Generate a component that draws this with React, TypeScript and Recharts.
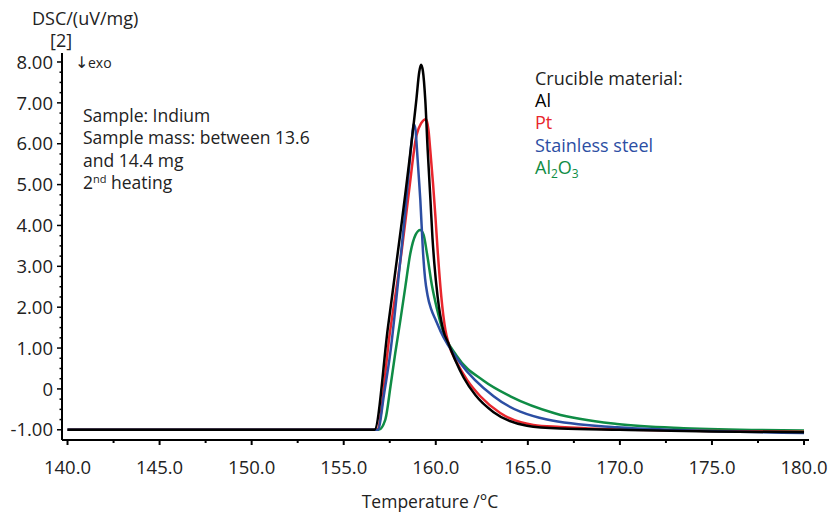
import React from 'react';
import { LineChart, Line, XAxis, YAxis } from 'recharts';

// ---- Data (Temperature °C, DSC uV/mg) ----
const alTemp = [140, 156.67, 157.4, 158.17, 158.95, 159.1, 159.2, 159.3, 159.43, 159.56, 159.71, 159.82, 159.92, 160.1, 160.4, 160.7, 161.06, 161.51, 162.15, 163.14, 164.95, 166.76, 170, 175, 180];
const alDsc = [-1, -1, 1.5, 4.14, 7.1, 7.75, 7.93, 7.78, 7.07, 5.85, 4.63, 3.7, 3.08, 2.26, 1.45, 1.1, 0.7, 0.28, -0.15, -0.57, -0.9, -0.97, -1.0, -1.04, -1.06];

const ptTemp = [140, 156.8, 157.5, 158.17, 158.55, 158.95, 159.2, 159.47, 159.6, 159.7, 159.85, 159.98, 160.1, 160.3, 160.52, 160.7, 161.16, 161.7, 162.42, 163.5, 165.3, 166.76, 170, 175, 180];
const ptDsc = [-1, -1, 1.35, 3.45, 4.85, 6.2, 6.5, 6.6, 6.35, 5.85, 5.03, 4.22, 3.4, 2.26, 1.45, 1.1, 0.63, 0.22, -0.18, -0.59, -0.88, -0.93, -0.99, -1.03, -1.05];

const ssTemp = [140, 156.85, 157.2, 157.53, 158.04, 158.3, 158.55, 158.72, 158.8, 158.9, 158.98, 159.07, 159.16, 159.3, 159.42, 159.55, 159.75, 160.0, 160.25, 161.34, 163.14, 166.04, 169.84, 173.46, 180];
const ssDsc = [-1, -1, -0.1, 0.88, 3.0, 4.14, 5.4, 6.2, 6.48, 6.34, 5.85, 5.24, 4.63, 3.4, 2.7, 2.3, 1.95, 1.68, 1.42, 0.63, -0.18, -0.75, -0.94, -1.01, -1.08];

const alOxTemp = [140, 156.9, 157.26, 157.54, 157.8, 158.08, 158.35, 158.62, 158.9, 159.16, 159.34, 159.52, 159.8, 160.07, 160.33, 161.15, 162.6, 164.05, 166.5, 169.84, 173.46, 180];
const alOxDsc = [-1, -1, -0.75, 0.06, 0.88, 1.69, 2.51, 3.32, 3.77, 3.89, 3.77, 3.32, 2.51, 1.95, 1.5, 0.8, 0.2, -0.18, -0.6, -0.86, -0.96, -1.02];

const xMajorTicks = [140, 145, 150, 155, 160, 165, 170, 175, 180];
const xMinorTicks = [142.5, 147.5, 152.5, 157.5, 162.5, 167.5, 172.5, 177.5];
const yMajorTicks = [-1, 0, 1, 2, 3, 4, 5, 6, 7, 8];
const yMinorTicks = [-0.75, -0.5, -0.25, 0.25, 0.5, 0.75, 1.25, 1.5, 1.75, 2.25, 2.5, 2.75, 3.25, 3.5, 3.75, 4.25, 4.5, 4.75, 5.25, 5.5, 5.75, 6.25, 6.5, 6.75, 7.25, 7.5, 7.75];

const legendTitle = 'Crucible material:';
const seriesNames = ['Al', 'Pt', 'Stainless steel', 'Al2O3'];
const sampleLines = ['Sample: Indium', 'Sample mass: between 13.6', 'and 14.4 mg'];

const toPoints = (t: number[], v: number[]) => t.map((x, i) => ({ x, y: v[i] }));
const alData = toPoints(alTemp, alDsc);
const ptData = toPoints(ptTemp, ptDsc);
const ssData = toPoints(ssTemp, ssDsc);
const alOxData = toPoints(alOxTemp, alOxDsc);

const FONT = '"Open Sans", "Noto Sans", sans-serif';
const TEXT = '#222';
const C_AL = '#000000';
const C_PT = '#e8262d';
const C_SS = '#2c4ea3';
const C_ALOX = '#0f8c45';

const xTicks = [...xMajorTicks, ...xMinorTicks].sort((a, b) => a - b);
const yTicks = [...yMajorTicks, ...yMinorTicks].sort((a, b) => a - b);

const XTick = (props: any) => {
  const { x, y, payload } = props;
  const v = payload.value as number;
  const major = xMajorTicks.includes(v);
  return (
    <g>
      <line x1={x} x2={x} y1={y} y2={y + (major ? 5 : 3)} stroke="#000" strokeWidth={2} />
      {major && (
        <text x={x} y={y + 34} textAnchor="middle" fontFamily={FONT} fontSize={18.5} fill={TEXT}>
          {v.toFixed(1)}
        </text>
      )}
    </g>
  );
};

const YTick = (props: any) => {
  const { x, y, payload } = props;
  const v = payload.value as number;
  const major = yMajorTicks.includes(v);
  return (
    <g>
      <line x1={x - (major ? 5 : 2.5)} x2={x} y1={y} y2={y} stroke="#000" strokeWidth={1.5} />
      {major && (
        <text x={x - 9} y={y} dy="0.36em" textAnchor="end" fontFamily={FONT} fontSize={18.5} fill={TEXT}>
          {v === 0 ? '0' : v.toFixed(2)}
        </text>
      )}
    </g>
  );
};

export default function App() {
  return (
    <div style={{ position: 'absolute', left: 0, top: 0, width: 833, height: 514, background: '#fff' }}>
      <LineChart width={833} height={514} margin={{ top: 53, right: 24, bottom: 0, left: 0 }}>
        <XAxis
          type="number"
          dataKey="x"
          domain={[139.7, 180.27]}
          ticks={xTicks}
          interval={0}
          tickSize={0}
          tickMargin={0}
          tickLine={false}
          tick={<XTick />}
          height={74}
          axisLine={{ stroke: '#000', strokeWidth: 2 }}
          allowDataOverflow
        />
        <YAxis
          type="number"
          domain={[-1.25, 8.22]}
          ticks={yTicks}
          interval={0}
          tickSize={0}
          tickMargin={0}
          tickLine={false}
          tick={<YTick />}
          width={62}
          axisLine={{ stroke: '#000', strokeWidth: 2 }}
          allowDataOverflow
        />
        <Line data={alOxData} dataKey="y" type="monotone" stroke={C_ALOX} strokeWidth={2.5} dot={false} isAnimationActive={false} />
        <Line data={ptData} dataKey="y" type="monotone" stroke={C_PT} strokeWidth={2.5} dot={false} isAnimationActive={false} />
        <Line data={ssData} dataKey="y" type="monotone" stroke={C_SS} strokeWidth={2.5} dot={false} isAnimationActive={false} />
        <Line data={alData} dataKey="y" type="monotone" stroke={C_AL} strokeWidth={2.5} dot={false} isAnimationActive={false} />
      </LineChart>
      <svg width={833} height={514} style={{ position: 'absolute', left: 0, top: 0, pointerEvents: 'none' }}>
        <g fontFamily={FONT} fill={TEXT}>
          <text x={32} y={25} fontSize={18}>DSC/(uV/mg)</text>
          <text x={50} y={47} fontSize={18}>[2]</text>
          <text x={75} y={68} fontSize={16} fontFamily='"DejaVu Sans", sans-serif'>↓</text>
          <text x={88} y={68} fontSize={14}>exo</text>
          <text x={430} y={508} fontSize={17.5} textAnchor="middle">Temperature /°C</text>

          {sampleLines.map((s, i) => (
            <text key={s} x={83} y={122 + i * 22.3} fontSize={17.5}>{s}</text>
          ))}
          <text x={83} y={188.5} fontSize={17.5}>
            2<tspan fontSize={11} dy={-6}>nd</tspan>
            <tspan dy={6}> heating</tspan>
          </text>

          <text x={535} y={85} fontSize={18}>{legendTitle}</text>
          <text x={535} y={107} fontSize={18} fill={C_AL}>{seriesNames[0]}</text>
          <text x={535} y={129} fontSize={18} fill={C_PT}>{seriesNames[1]}</text>
          <text x={535} y={151.5} fontSize={18} fill={C_SS}>{seriesNames[2]}</text>
          <text x={535} y={173.5} fontSize={18} fill={C_ALOX}>
            Al<tspan fontSize={12} dy={4}>2</tspan>
            <tspan dy={-4}>O</tspan>
            <tspan fontSize={12} dy={4}>3</tspan>
          </text>
        </g>
      </svg>
    </div>
  );
}
